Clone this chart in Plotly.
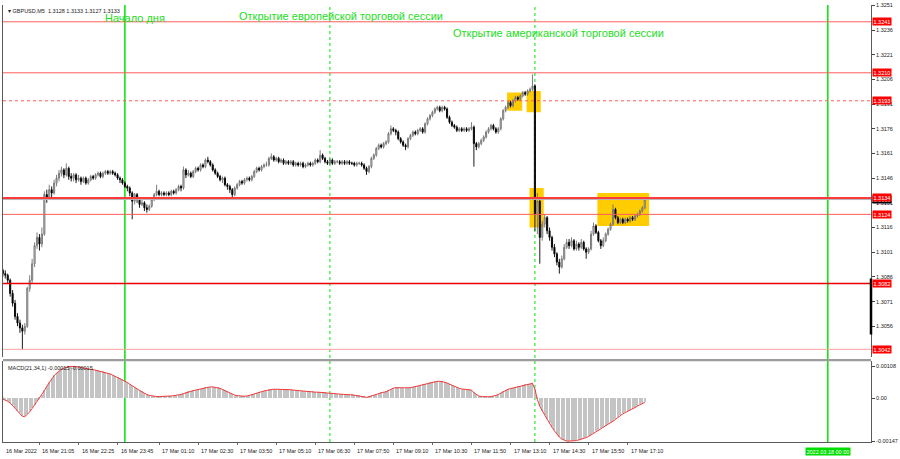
import pandas as pd
import plotly.graph_objects as go

# ---------------- data ----------------
symbol = "GBPUSD,M5"
first_bar_time = "2022-03-16 19:45"
bar_minutes = 5
base_price = 1.3000          # prices below are pips above this base
first_open_pips = 92

close_pips = [
    90, 88, 87, 84, 76, 70, 62, 58, 55, 53,
    56, 79, 84, 94, 105, 110, 106, 112, 136, 134,
    139, 137, 143, 146, 149, 151, 148, 152, 147, 146,
    148, 145, 146, 144, 146, 143, 145, 147, 146, 148,
    149, 147, 149, 150, 149, 150, 149, 148, 146, 145,
    143, 141, 140, 137, 132, 136, 133, 130, 131, 128,
    127, 129, 133, 136, 138, 136, 137, 136, 137, 136,
    138, 137, 139, 141, 140, 151, 148, 149, 147, 150,
    152, 151, 154, 153, 157, 156, 154, 151, 149, 147,
    145, 146, 142, 141, 139, 136, 140, 142, 144, 143,
    145, 146, 145, 147, 150, 152, 151, 153, 154, 154,
    158, 159, 157, 158, 156, 157, 155, 156, 155, 156,
    154, 155, 154, 155, 153, 154, 155, 154, 155, 157,
    156, 160, 158, 156, 155, 157, 155, 156, 156, 155,
    156, 155, 156, 155, 155, 154, 155, 155, 154, 152,
    150, 153, 158, 160, 164, 166, 165, 167, 168, 173,
    176, 175, 174, 170, 168, 166, 165, 170, 172, 174,
    173, 175, 176, 174, 179, 182, 184, 186, 188, 189,
    187, 189, 188, 183, 180, 178, 177, 175, 176, 175,
    176, 175, 176, 177, 167, 165, 167, 169, 171, 174,
    176, 178, 176, 174, 176, 182, 187, 189, 192, 190,
    193, 195, 194, 196, 198, 197, 199, 200, 202, 124,
    132, 110, 118, 122, 114, 110, 104, 100, 95, 92,
    97, 104, 107, 105, 108, 103, 106, 104, 107, 103,
    101, 103, 112, 117, 113, 108, 105, 108, 112, 115,
    118, 127, 122, 119, 121, 119, 121, 120, 122, 121,
    123, 124, 126, 128, 133,
]
high_pips = [
    94, 91, 90, 88, 85, 78, 72, 64, 60, 57,
    58, 80, 87, 97, 107, 113, 112, 116, 138, 139,
    142, 141, 145, 148, 151, 153, 152, 155, 153, 149,
    149, 149, 148, 147, 147, 147, 146, 148, 148, 149,
    150, 150, 150, 151, 151, 151, 151, 150, 149, 147,
    146, 144, 142, 141, 138, 137, 137, 134, 133, 132,
    130, 130, 134, 137, 142, 139, 138, 138, 138, 138,
    139, 139, 140, 142, 142, 153, 152, 151, 150, 151,
    153, 153, 155, 155, 158, 159, 157, 155, 152, 150,
    148, 147, 147, 143, 142, 140, 141, 143, 145, 145,
    146, 147, 147, 148, 151, 153, 153, 154, 155, 156,
    159, 161, 160, 159, 159, 158, 158, 157, 157, 157,
    157, 156, 156, 156, 156, 155, 156, 156, 156, 158,
    158, 163, 161, 159, 157, 158, 158, 157, 157, 157,
    157, 157, 157, 157, 156, 156, 156, 156, 156, 155,
    153, 154, 159, 161, 165, 167, 167, 168, 169, 174,
    178, 177, 176, 175, 171, 169, 167, 171, 173, 175,
    175, 176, 177, 177, 180, 183, 185, 187, 189, 190,
    190, 190, 190, 189, 184, 181, 179, 178, 177, 177,
    177, 177, 177, 180, 178, 168, 168, 170, 172, 175,
    177, 179, 179, 177, 177, 183, 188, 190, 193, 193,
    194, 196, 196, 197, 199, 199, 200, 201, 209, 203,
    137, 133, 120, 124, 123, 116, 111, 106, 101, 97,
    99, 106, 109, 109, 110, 109, 108, 107, 109, 108,
    104, 104, 114, 119, 118, 114, 109, 110, 113, 116,
    119, 130, 128, 123, 122, 122, 122, 122, 123, 123,
    124, 125, 127, 129, 133,
]
low_pips = [
    88, 86, 85, 82, 74, 68, 60, 56, 52, 42,
    51, 55, 77, 82, 92, 103, 102, 104, 111, 131,
    133, 134, 136, 141, 144, 147, 146, 147, 145, 144,
    144, 143, 144, 142, 143, 142, 142, 144, 145, 145,
    147, 146, 146, 148, 148, 148, 148, 147, 145, 143,
    142, 140, 138, 135, 121, 130, 131, 128, 129, 126,
    125, 126, 128, 132, 135, 135, 135, 135, 135, 135,
    135, 136, 136, 138, 138, 139, 146, 147, 146, 146,
    149, 150, 150, 152, 152, 155, 153, 150, 148, 146,
    144, 143, 141, 139, 137, 133, 135, 139, 141, 142,
    142, 144, 144, 144, 146, 149, 150, 150, 152, 153,
    153, 157, 156, 156, 155, 155, 154, 154, 154, 154,
    153, 153, 153, 153, 152, 152, 153, 153, 153, 154,
    155, 155, 157, 155, 154, 154, 154, 154, 155, 154,
    154, 154, 154, 154, 154, 153, 153, 154, 153, 151,
    148, 149, 152, 157, 159, 163, 164, 164, 166, 167,
    172, 174, 172, 169, 167, 165, 163, 164, 169, 171,
    172, 172, 174, 173, 173, 178, 181, 183, 185, 187,
    186, 186, 187, 182, 179, 177, 176, 174, 174, 174,
    174, 174, 174, 175, 153, 163, 164, 166, 168, 170,
    173, 175, 175, 173, 173, 175, 181, 186, 188, 189,
    189, 192, 193, 193, 195, 196, 196, 198, 199, 114,
    112, 94, 108, 116, 112, 108, 102, 98, 93, 88,
    91, 96, 103, 103, 104, 102, 102, 102, 103, 102,
    97, 100, 102, 111, 112, 107, 103, 104, 107, 111,
    114, 117, 121, 118, 118, 118, 118, 119, 119, 120,
    120, 122, 123, 125, 127,
]
# MACD(21,34,1) main line, in units of 0.00001
macd_e5 = [
    0, -3, -7, -11, -17, -25, -34, -44, -54, -62,
    -64, -57, -47, -36, -24, -13, -3, 10, 25, 40,
    53, 65, 76, 85, 92, 98, 102, 105, 107, 108,
    108, 107, 106, 104, 102, 100, 99, 98, 97, 95,
    94, 92, 90, 88, 85, 82, 78, 74, 70, 67,
    63, 58, 53, 47, 41, 36, 31, 26, 21, 16,
    12, 9, 7, 6, 5, 5, 5, 5, 5, 6,
    7, 8, 9, 10, 12, 15, 18, 21, 23, 25,
    27, 29, 31, 34, 36, 38, 38, 38, 37, 36,
    33, 29, 25, 21, 17, 13, 10, 8, 7, 6,
    6, 7, 8, 11, 14, 17, 20, 22, 24, 26,
    28, 30, 30, 30, 30, 30, 29, 29, 29, 28,
    27, 26, 25, 24, 23, 22, 22, 21, 21, 20,
    20, 20, 19, 18, 17, 17, 16, 15, 14, 13,
    13, 12, 12, 11, 11, 10, 9, 8, 6, 4,
    2, 4, 7, 10, 12, 15, 18, 20, 21, 25,
    30, 34, 35, 35, 34, 34, 33, 34, 35, 37,
    39, 41, 43, 45, 47, 50, 52, 54, 56, 57,
    57, 56, 54, 51, 47, 43, 39, 36, 33, 31,
    30, 29, 28, 27, 18, 11, 7, 5, 4, 4,
    4, 5, 6, 9, 12, 17, 23, 27, 30, 32,
    34, 37, 39, 41, 43, 45, 47, 48, 50, 30,
    -5, -28, -45, -58, -72, -88, -100, -112, -123, -133,
    -140, -145, -147, -147, -147, -146, -145, -143, -141, -138,
    -135, -131, -126, -120, -114, -109, -104, -100, -96, -91,
    -86, -79, -73, -66, -58, -54, -50, -46, -42, -38,
    -33, -28, -23, -19, -15,
]
macd_name = "MACD(21,34,1)"

level_prices = [1.3241, 1.3210, 1.3193, 1.3134, 1.3124, 1.3082, 1.3042]

session_times = ["2022-03-17 00:00", "2022-03-17 07:00", "2022-03-17 14:00", "2022-03-18 00:00"]
session_texts = ["Начало дня", "Открытие европейской торговой сессии", "Открытие американской торговой сессии"]
session_text_times = ["2022-03-16 23:15", "2022-03-17 03:49", "2022-03-17 11:09"]
session_text_prices = [1.32436, 1.32446, 1.32342]
future_label = "2022.03.18 00:00"

zone_start = ["2022-03-17 13:03", "2022-03-17 13:43", "2022-03-17 13:49", "2022-03-17 16:08"]
zone_end = ["2022-03-17 13:34", "2022-03-17 14:12", "2022-03-17 14:18", "2022-03-17 17:54"]
zone_top = [1.3198, 1.3199, 1.3140, 1.3137]
zone_bottom = [1.3187, 1.3186, 1.3116, 1.3117]

time_tick_times = [
    "2022-03-16 19:45", "2022-03-16 21:05", "2022-03-16 22:25", "2022-03-16 23:45",
    "2022-03-17 01:10", "2022-03-17 02:30", "2022-03-17 03:50", "2022-03-17 05:10",
    "2022-03-17 06:30", "2022-03-17 07:50", "2022-03-17 09:10", "2022-03-17 10:30",
    "2022-03-17 11:50", "2022-03-17 13:10", "2022-03-17 14:30", "2022-03-17 15:50",
    "2022-03-17 17:10",
]
time_tick_labels = [
    "16 Mar 2022", "16 Mar 21:05", "16 Mar 22:25", "16 Mar 23:45",
    "17 Mar 01:10", "17 Mar 02:30", "17 Mar 03:50", "17 Mar 05:10",
    "17 Mar 06:30", "17 Mar 07:50", "17 Mar 09:10", "17 Mar 10:30",
    "17 Mar 11:50", "17 Mar 13:10", "17 Mar 14:30", "17 Mar 15:50",
    "17 Mar 17:10",
]
price_ticks = [1.3251, 1.3236, 1.3221, 1.3206, 1.3191, 1.3176, 1.3161, 1.3146,
               1.3131, 1.3116, 1.3101, 1.3086, 1.3071, 1.3056]
macd_ticks = [0.00108, 0.0, -0.00147]
macd_tick_labels = ["0.00108", "0.00", "-0.00147"]

# ---------------- build ----------------
n = len(close_pips)
assert len(high_pips) == n and len(low_pips) == n and len(macd_e5) == n, (len(close_pips), len(high_pips), len(low_pips), len(macd_e5))
times = pd.date_range(first_bar_time, periods=n, freq=f"{bar_minutes}min")
closes = [round(base_price + v / 1e4, 4) for v in close_pips]
highs = [round(base_price + v / 1e4, 4) for v in high_pips]
lows = [round(base_price + v / 1e4, 4) for v in low_pips]
opens = [round(base_price + first_open_pips / 1e4, 4)] + closes[:-1]
macd = [v * 1e-5 for v in macd_e5]

t0 = pd.Timestamp(first_bar_time)
bar = pd.Timedelta(minutes=bar_minutes)
x_range = [t0 + bar * 1.06, t0 + bar * 356.7]

H = 459
top_px, bottom_px = 3, 442
ph = bottom_px - top_px
def pfrac(py):
    return (bottom_px - py) / ph

FONT = "Liberation Sans"
fig = go.Figure()

fig.add_trace(go.Candlestick(
    x=times, open=opens, high=highs, low=lows, close=closes,
    increasing=dict(line=dict(color="#707070", width=0.9), fillcolor="#d8d8d8"),
    decreasing=dict(line=dict(color="#000000", width=0.9), fillcolor="#000000"),
    whiskerwidth=0, xaxis="x", yaxis="y", hoverinfo="skip",
))
fig.add_trace(go.Bar(
    x=times, y=macd, marker=dict(color="#c4c4c4", line=dict(width=0)),
    width=bar.total_seconds() * 1000 * 0.42, xaxis="x2", yaxis="y2", hoverinfo="skip",
))
fig.add_trace(go.Scatter(
    x=times, y=macd, mode="lines", line=dict(color="#f23a3a", width=1),
    xaxis="x2", yaxis="y2", hoverinfo="skip",
))

shapes = []
# zones (behind candles)
for a, b, tp, bt in zip(zone_start, zone_end, zone_top, zone_bottom):
    shapes.append(dict(type="rect", xref="x", yref="y", x0=a, x1=b, y0=bt, y1=tp,
                       fillcolor="#ffcc00", line=dict(width=0), layer="below"))
# session vertical lines (behind candles, over zones)
for k, t in enumerate(session_times):
    dotted = k in (1, 2)
    shapes.append(dict(type="line", xref="x", yref="paper", x0=t, x1=t, y0=0, y1=1,
                       layer="below",
                       line=dict(color="#00e600", width=1 if dotted else 1.5,
                                 dash="dot" if dotted else "solid")))
# horizontal levels
level_style = {
    1.3241: ("#ff5c5c", 1, "solid"),
    1.3210: ("#ff5c5c", 1, "solid"),
    1.3193: ("#ff5c5c", 1, "dot"),
    1.3134: ("#ff3a3a", 2, "solid"),
    1.3124: ("#ff5c5c", 1, "solid"),
    1.3082: ("#e80000", 1.5, "solid"),
    1.3042: ("#ffa0a0", 1, "solid"),
}
for p in level_prices:
    c, w, d = level_style[p]
    shapes.append(dict(type="line", xref="x domain", yref="y", x0=0, x1=1, y0=p, y1=p,
                       line=dict(color=c, width=w, dash=d)))
bid = closes[-1]
shapes.append(dict(type="line", xref="x domain", yref="y", x0=0, x1=1, y0=bid, y1=bid,
                   line=dict(color="#b4b4b4", width=1)))
# panel separator
shapes.append(dict(type="rect", xref="paper", yref="paper", x0=0, x1=1,
                   y0=pfrac(361), y1=pfrac(358.5), fillcolor="#9c9c9c", line=dict(width=0)))
# scale marker on right axis
shapes.append(dict(type="line", xref="paper", yref="y", x0=1, x1=1, y0=1.3051, y1=1.3085,
                   line=dict(color="#000000", width=2.5)))

ann = []
small = dict(family=FONT, size=5.5, color="#1a1a1a")
# title
ann.append(dict(xref="paper", yref="paper", x=0, y=1, xanchor="left", yanchor="top",
                xshift=3, yshift=-1, showarrow=False,
                text=f"▾ {symbol}  {opens[-1]:.4f} {highs[-1]:.4f} {lows[-1]:.4f} {closes[-1]:.4f}",
                font=small))
ann.append(dict(xref="paper", yref="paper", x=0, y=pfrac(361), xanchor="left", yanchor="top",
                xshift=3, yshift=-2, showarrow=False,
                text=f"{macd_name} {macd[-1]:.5f} {macd[-1]:.5f}", font=small))
# session texts
for txt, t, p in zip(session_texts, session_text_times, session_text_prices):
    ann.append(dict(xref="x", yref="y", x=t, y=p, xanchor="left", yanchor="middle",
                    showarrow=False, text=txt,
                    font=dict(family=FONT, size=11, color="#22dd22")))
# time labels (the first one sits at the left edge of the chart)
for k, (t, lab) in enumerate(zip(time_tick_times, time_tick_labels)):
    if k == 0:
        ann.append(dict(xref="paper", yref="paper", x=0, y=0, xanchor="left", yanchor="top",
                        xshift=1, yshift=-4, showarrow=False, text=lab, font=small))
    else:
        ann.append(dict(xref="x", yref="paper", x=t, y=0, xanchor="left", yanchor="top",
                        xshift=1, yshift=-4, showarrow=False, text=lab, font=small))
ann.append(dict(xref="x", yref="paper", x=session_times[3], y=0, xanchor="center", yanchor="top",
                yshift=-5, showarrow=False, text=future_label, bgcolor="#00dd00",
                borderpad=0.5, font=dict(family=FONT, size=5.5, color="#ffffff")))
# price labels on scale
ann.append(dict(xref="paper", yref="y", x=1, y=bid, xanchor="left", yanchor="middle",
                xshift=1, showarrow=False, text=f"{bid:.4f}", bgcolor="#000000",
                borderpad=0.5, font=dict(family=FONT, size=5.5, color="#ffffff")))
for p in level_prices:
    ann.append(dict(xref="paper", yref="y", x=1, y=p, xanchor="left", yanchor="middle",
                    xshift=1, showarrow=False, text=f"{p:.4f}", bgcolor="#ff0000",
                    borderpad=0.5, font=dict(family=FONT, size=5.5, color="#ffffff")))

fig.update_layout(
    width=900, height=H, margin=dict(l=2, r=25, t=top_px, b=H - bottom_px),
    paper_bgcolor="#ffffff", plot_bgcolor="#ffffff", showlegend=False,
    boxgap=0.35, bargap=0,
    shapes=shapes, annotations=ann,
    xaxis=dict(domain=[0, 1], anchor="y", type="date", range=x_range,
               showticklabels=False, showgrid=False, zeroline=False,
               rangeslider=dict(visible=False), showline=False),
    yaxis=dict(domain=[pfrac(357), 1], anchor="x", side="right",
               range=[1.30371, 1.32512], tickvals=price_ticks,
               ticktext=[f"{v:.4f}" for v in price_ticks],
               ticks="outside", ticklen=3, tickcolor="#444444",
               tickfont=small, showgrid=False, zeroline=False,
               showline=True, mirror=True, linecolor="#5a5a5a", linewidth=1),
    xaxis2=dict(domain=[0, 1], anchor="y2", type="date", range=x_range, matches="x",
                tickvals=time_tick_times, showticklabels=False, ticks="outside",
                ticklen=2, tickcolor="#666666", showgrid=False, zeroline=False,
                showline=True, linecolor="#5a5a5a", linewidth=1),
    yaxis2=dict(domain=[0, pfrac(361)], anchor="x2", side="right",
                range=[-0.00150, 0.00125], tickvals=macd_ticks, ticktext=macd_tick_labels,
                ticks="outside", ticklen=3, tickcolor="#444444",
                tickfont=small, showgrid=False, zeroline=False,
                showline=True, mirror=True, linecolor="#5a5a5a", linewidth=1),
)

fig.write_html("out.html", config={"displayModeBar": False},
               post_script="document.body.style.margin='0';")
